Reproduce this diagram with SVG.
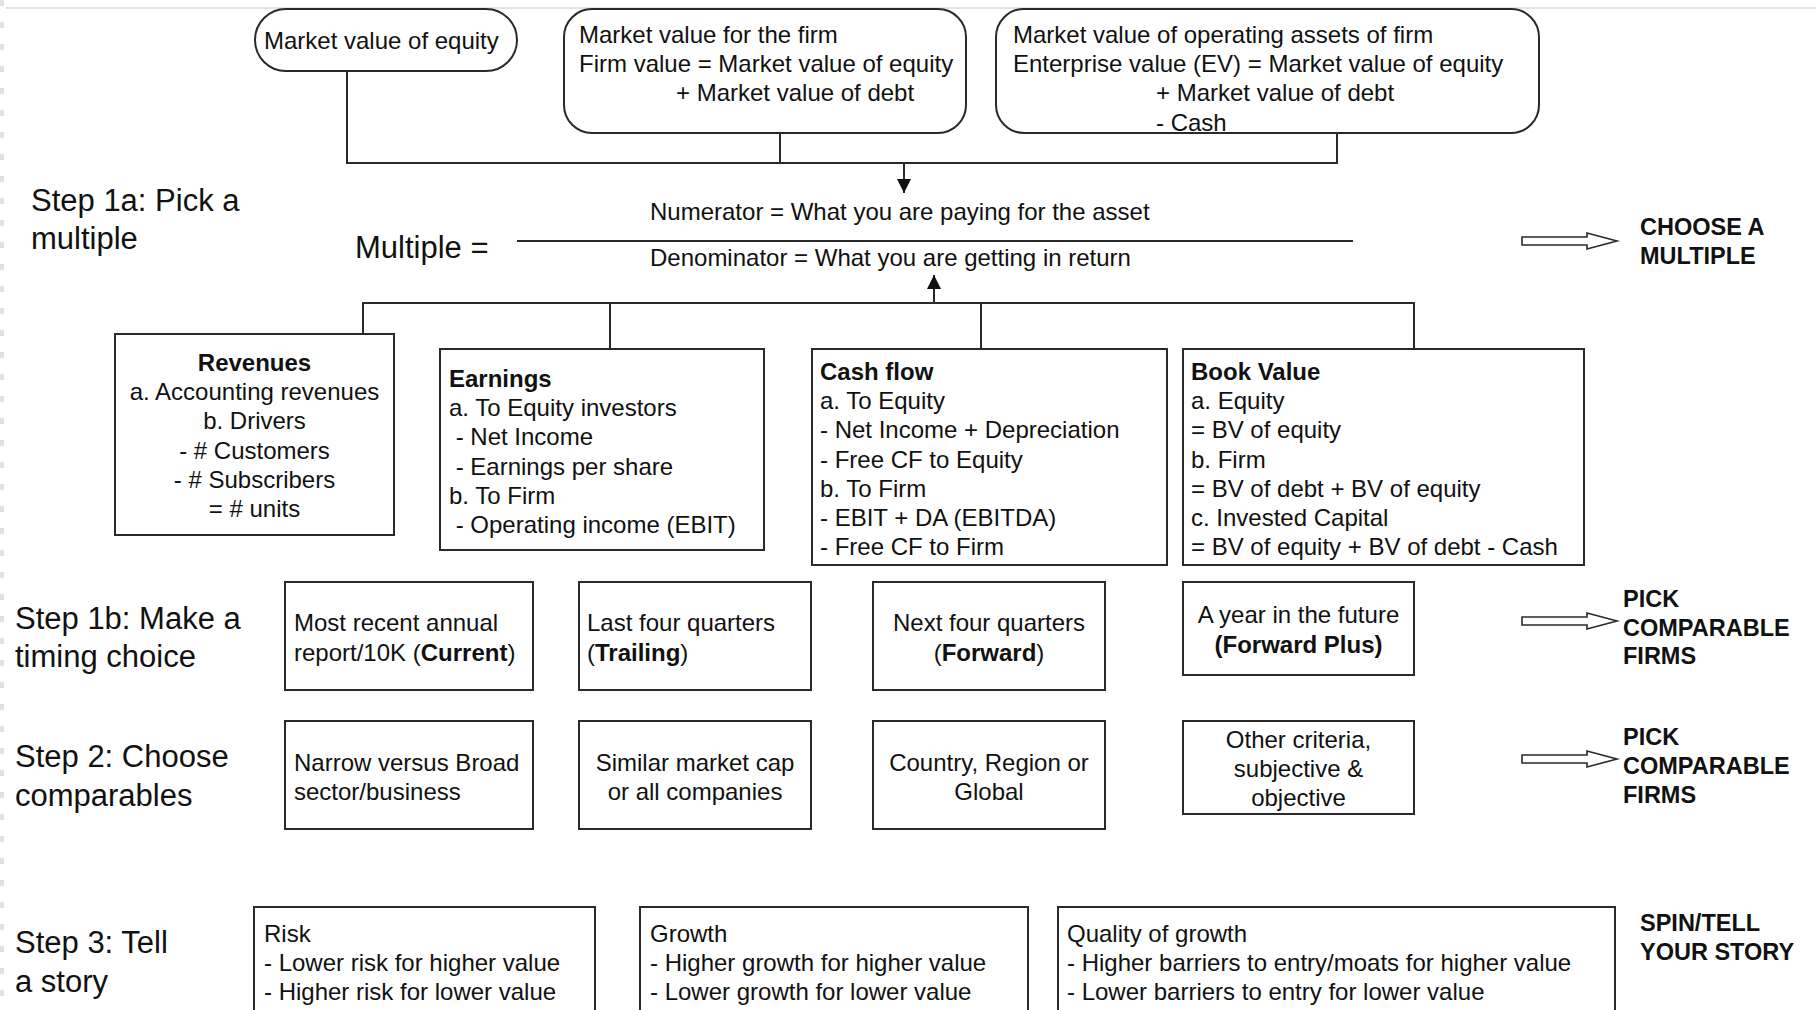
<svg xmlns="http://www.w3.org/2000/svg" width="1816" height="1010" viewBox="0 0 1816 1010">
<defs>
<style>
.box{fill:#fff;stroke:#2a2a2a;stroke-width:2}
.conn{fill:none;stroke:#2a2a2a;stroke-width:2}
.blk{fill:#fff;stroke:#2a2a2a;stroke-width:1.6}
.t{font-family:"Liberation Sans",Arial,Helvetica,sans-serif;font-size:24px;fill:#111}
.b{font-weight:bold}
.step{font-size:31px}
.lbl{font-size:23.5px;font-weight:bold}
.mid{text-anchor:middle}
</style>
<marker id="ah" markerUnits="userSpaceOnUse" markerWidth="14" markerHeight="14" refX="14" refY="7" orient="auto">
<path d="M0,0 L14,7 L0,14 z" fill="#111"/>
</marker>
<path id="blockArrow" d="M0,-4 L65,-4 L65,-8 L95,0 L65,8 L65,4 L0,4 z"/>
</defs>
<rect width="1816" height="1010" fill="#fff"/>
<line x1="6" y1="8" x2="1816" y2="8" stroke="#d8d8d8" stroke-width="1.5"/>
<line x1="2" y1="0" x2="2" y2="1010" stroke="#e2e2e2" stroke-width="4" stroke-dasharray="6 16"/>

<g id="connectors">
<path class="conn" d="M347,71 V163 H1337 V133 M780,133 V163"/>
<line class="conn" x1="904" y1="163" x2="904" y2="193" marker-end="url(#ah)"/>
<line class="conn" x1="517" y1="241" x2="1353" y2="241"/>
<path class="conn" d="M363,334 V303 H1414 V349 M610,303 V349 M981,303 V349"/>
<line class="conn" x1="934" y1="303" x2="934" y2="275" marker-end="url(#ah)"/>
<use href="#blockArrow" class="blk" x="1522" y="241"/>
<use href="#blockArrow" class="blk" x="1522" y="621"/>
<use href="#blockArrow" class="blk" x="1522" y="759"/>
</g>

<g id="mv-equity">
<rect class="box" x="255" y="9" width="262" height="62" rx="31"/>
<text class="t" x="264" y="49">Market value of equity</text>
</g>
<g id="mv-firm">
<rect class="box" x="564" y="9" width="402" height="124" rx="28"/>
<text class="t" x="579" y="43">Market value for the firm</text>
<text class="t" x="579" y="72">Firm value = Market value of equity</text>
<text class="t" x="676" y="101">+ Market value of debt</text>
</g>
<g id="mv-ev">
<rect class="box" x="996" y="9" width="543" height="124" rx="28"/>
<text class="t" x="1013" y="43">Market value of operating assets of firm</text>
<text class="t" x="1013" y="72">Enterprise value (EV) = Market value of equity</text>
<text class="t" x="1156" y="101">+ Market value of debt</text>
<text class="t" x="1156" y="131">- Cash</text>
</g>

<g id="step1a">
<text class="t step" x="31" y="211">Step 1a: Pick a</text>
<text class="t step" x="31" y="249">multiple</text>
</g>
<g id="multiple">
<text class="t step" x="355" y="258">Multiple =</text>
<text class="t" x="650" y="220">Numerator = What you are paying for the asset</text>
<text class="t" x="650" y="266">Denominator = What you are getting in return</text>
</g>
<g id="choose-multiple">
<text class="t lbl" x="1640" y="235">CHOOSE A</text>
<text class="t lbl" x="1640" y="264">MULTIPLE</text>
</g>

<g id="revenues">
<rect class="box" x="115" y="334" width="279" height="201"/>
<text class="t mid" x="254.5" y="371"><tspan class="b">Revenues</tspan><tspan x="254.5" dy="29.2">a. Accounting revenues</tspan><tspan x="254.5" dy="29.2">b. Drivers</tspan><tspan x="254.5" dy="29.2">- # Customers</tspan><tspan x="254.5" dy="29.2">- # Subscribers</tspan><tspan x="254.5" dy="29.2">= # units</tspan></text>
</g>
<g id="earnings">
<rect class="box" x="440" y="349" width="324" height="201"/>
<text class="t" x="449" y="387"><tspan class="b">Earnings</tspan><tspan x="449" dy="29.2">a. To Equity investors</tspan><tspan x="449" dy="29.2"> - Net Income</tspan><tspan x="449" dy="29.2"> - Earnings per share</tspan><tspan x="449" dy="29.2">b. To Firm</tspan><tspan x="449" dy="29.2"> - Operating income (EBIT)</tspan></text>
</g>
<g id="cashflow">
<rect class="box" x="812" y="349" width="355" height="216"/>
<text class="t" x="820" y="380"><tspan class="b">Cash flow</tspan><tspan x="820" dy="29.2">a. To Equity</tspan><tspan x="820" dy="29.2">- Net Income + Depreciation</tspan><tspan x="820" dy="29.2">- Free CF to Equity</tspan><tspan x="820" dy="29.2">b. To Firm</tspan><tspan x="820" dy="29.2">- EBIT + DA (EBITDA)</tspan><tspan x="820" dy="29.2">- Free CF to Firm</tspan></text>
</g>
<g id="bookvalue">
<rect class="box" x="1183" y="349" width="401" height="216"/>
<text class="t" x="1191" y="380"><tspan class="b">Book Value</tspan><tspan x="1191" dy="29.2">a. Equity</tspan><tspan x="1191" dy="29.2">= BV of equity</tspan><tspan x="1191" dy="29.2">b. Firm</tspan><tspan x="1191" dy="29.2">= BV of debt + BV of equity</tspan><tspan x="1191" dy="29.2">c. Invested Capital</tspan><tspan x="1191" dy="29.2">= BV of equity + BV of debt - Cash</tspan></text>
</g>

<g id="step1b">
<text class="t step" x="15" y="629">Step 1b: Make a</text>
<text class="t step" x="15" y="667">timing choice</text>
</g>
<g id="current">
<rect class="box" x="285" y="582" width="248" height="108"/>
<text class="t" x="294" y="631">Most recent annual</text>
<text class="t" x="294" y="661">report/10K (<tspan class="b">Current</tspan>)</text>
</g>
<g id="trailing">
<rect class="box" x="579" y="582" width="232" height="108"/>
<text class="t" x="587" y="631">Last four quarters</text>
<text class="t" x="587" y="661">(<tspan class="b">Trailing</tspan>)</text>
</g>
<g id="forward">
<rect class="box" x="873" y="582" width="232" height="108"/>
<text class="t mid" x="989" y="631">Next four quarters</text>
<text class="t mid" x="989" y="661">(<tspan class="b">Forward</tspan>)</text>
</g>
<g id="forward-plus">
<rect class="box" x="1183" y="582" width="231" height="93"/>
<text class="t mid" x="1298.5" y="623">A year in the future</text>
<text class="t mid b" x="1298.5" y="653">(Forward Plus)</text>
</g>
<g id="pick1">
<text class="t lbl" x="1623" y="607">PICK</text>
<text class="t lbl" x="1623" y="636">COMPARABLE</text>
<text class="t lbl" x="1623" y="664">FIRMS</text>
</g>

<g id="step2">
<text class="t step" x="15" y="767">Step 2: Choose</text>
<text class="t step" x="15" y="806">comparables</text>
</g>
<g id="narrow-broad">
<rect class="box" x="285" y="721" width="248" height="108"/>
<text class="t" x="294" y="771">Narrow versus Broad</text>
<text class="t" x="294" y="800">sector/business</text>
</g>
<g id="market-cap">
<rect class="box" x="579" y="721" width="232" height="108"/>
<text class="t mid" x="695" y="771">Similar market cap</text>
<text class="t mid" x="695" y="800">or all companies</text>
</g>
<g id="region">
<rect class="box" x="873" y="721" width="232" height="108"/>
<text class="t mid" x="989" y="771">Country, Region or</text>
<text class="t mid" x="989" y="800">Global</text>
</g>
<g id="other-criteria">
<rect class="box" x="1183" y="721" width="231" height="93"/>
<text class="t mid" x="1298.5" y="748">Other criteria,</text>
<text class="t mid" x="1298.5" y="777">subjective &amp;</text>
<text class="t mid" x="1298.5" y="806">objective</text>
</g>
<g id="pick2">
<text class="t lbl" x="1623" y="745">PICK</text>
<text class="t lbl" x="1623" y="774">COMPARABLE</text>
<text class="t lbl" x="1623" y="803">FIRMS</text>
</g>

<g id="step3">
<text class="t step" x="15" y="953">Step 3: Tell</text>
<text class="t step" x="15" y="992">a story</text>
</g>
<g id="risk">
<rect class="box" x="254" y="907" width="341" height="120"/>
<text class="t" x="264" y="942">Risk</text>
<text class="t" x="264" y="971">- Lower risk for higher value</text>
<text class="t" x="264" y="1000">- Higher risk for lower value</text>
</g>
<g id="growth">
<rect class="box" x="640" y="907" width="388" height="120"/>
<text class="t" x="650" y="942">Growth</text>
<text class="t" x="650" y="971">- Higher growth for higher value</text>
<text class="t" x="650" y="1000">- Lower growth for lower value</text>
</g>
<g id="quality">
<rect class="box" x="1058" y="907" width="557" height="120"/>
<text class="t" x="1067" y="942">Quality of growth</text>
<text class="t" x="1067" y="971">- Higher barriers to entry/moats for higher value</text>
<text class="t" x="1067" y="1000">- Lower barriers to entry for lower value</text>
</g>
<g id="spin">
<text class="t lbl" x="1640" y="931">SPIN/TELL</text>
<text class="t lbl" x="1640" y="960">YOUR STORY</text>
</g>
</svg>
